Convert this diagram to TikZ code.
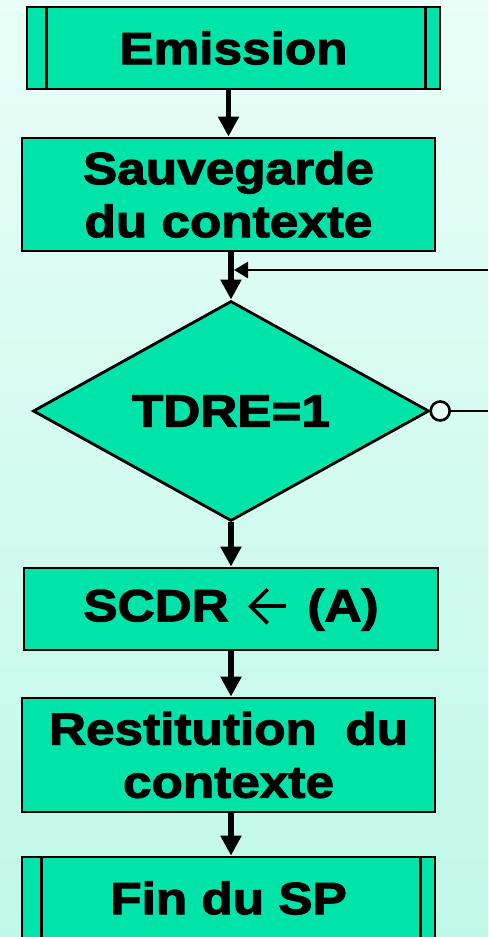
\documentclass[tikz,border=0pt]{standalone}
\usepackage{fontspec}
\setmainfont{Liberation Sans}[FakeStretch=1.14, BoldFeatures={FakeBold=2.5}]
\usetikzlibrary{shapes.geometric,arrows.meta}
\definecolor{boxgreen}{RGB}{0,228,170}
\definecolor{bgtop}{RGB}{232,254,247}
\definecolor{bgbottom}{RGB}{192,248,232}
\tikzset{
  flowbox/.style={draw=black, line width=2.8pt, fill=boxgreen, inner sep=0pt,
    minimum width=413pt, align=center,
    font=\fontsize{45}{53}\selectfont\bfseries},
  decision/.style={diamond, draw=black, line width=2.8pt, fill=boxgreen, inner sep=0pt,
    minimum width=396pt, minimum height=220pt, aspect=1.8,
    font=\fontsize{45}{53}\selectfont\bfseries},
  flowarrow/.style={line width=5.5pt, -{Triangle[width=20pt,length=20pt]}},
  thinarrow/.style={line width=2.8pt, -{Triangle[width=16pt,length=14pt]}},
  thinline/.style={line width=2.8pt},
}
% thin open-headed assignment arrow used inside the text
\newcommand\assignarrow{%
  \begin{tikzpicture}[x=1pt, y=1pt, baseline=0pt, line width=3.6pt,
      line cap=butt, line join=miter]
    \draw (37,15) -- (1,15);
    \draw (19,32) -- (2,15) -- (19,-2);
  \end{tikzpicture}}
\begin{document}
\begin{tikzpicture}[x=1pt,y=-1pt]
  % background
  \shade[top color=bgtop, bottom color=bgbottom] (0,0) rectangle (488,937);
  \useasboundingbox (0,0) rectangle (488,937);

  % nodes
  \node[flowbox, minimum height=82pt] (em) at (233.5,48) {Emission};
  \node[flowbox, minimum height=113pt] (sv) at (228.5,194.5) {Sauvegarde\\du contexte};
  \node[decision] (td) at (231,411) {TDRE=1};
  \node[flowbox, minimum width=414pt, minimum height=82pt] (sc) at (231,609)
    {SCDR\hspace{19pt}\assignarrow\hspace{20pt}(A)};
  \node[flowbox, minimum height=114pt] (rs) at (228.5,755) {Restitution~~du\\contexte};
  \node[flowbox, minimum height=82pt] (fn) at (228.5,898) {Fin du SP};

  % inner bars of the predefined-process boxes
  \foreach \n in {em,fn} {
    \draw[line width=2.6pt] ([xshift=21pt]\n.north west) -- ([xshift=21pt]\n.south west);
    \draw[line width=2.6pt] ([xshift=-16pt]\n.north east) -- ([xshift=-16pt]\n.south east);
  }

  % main flow
  \draw[flowarrow] (sv.north |- em.south) -- (sv.north);
  \draw[flowarrow] (td.north |- sv.south) -- (td.north);
  \draw[flowarrow] (td.south) -- (sc.north);
  \draw[flowarrow] (sc.south) -- (sc.south |- rs.north);
  \draw[flowarrow] (sc.south |- rs.south) -- (sc.south |- fn.north);

  % "no" exit of the test and loop back
  \node[circle, draw=black, line width=2.6pt, fill=bgtop, minimum size=19pt, inner sep=0pt,
        anchor=west] (no) at ([xshift=-1pt]td.east) {};
  \coordinate (rightedge) at (488,0);
  \draw[thinline] (no.east) -- (no.east -| rightedge);
  \coordinate (back) at (488,270);
  \draw[thinarrow] (back) -- ([xshift=3pt]td.north |- back);
\end{tikzpicture}
\end{document}
